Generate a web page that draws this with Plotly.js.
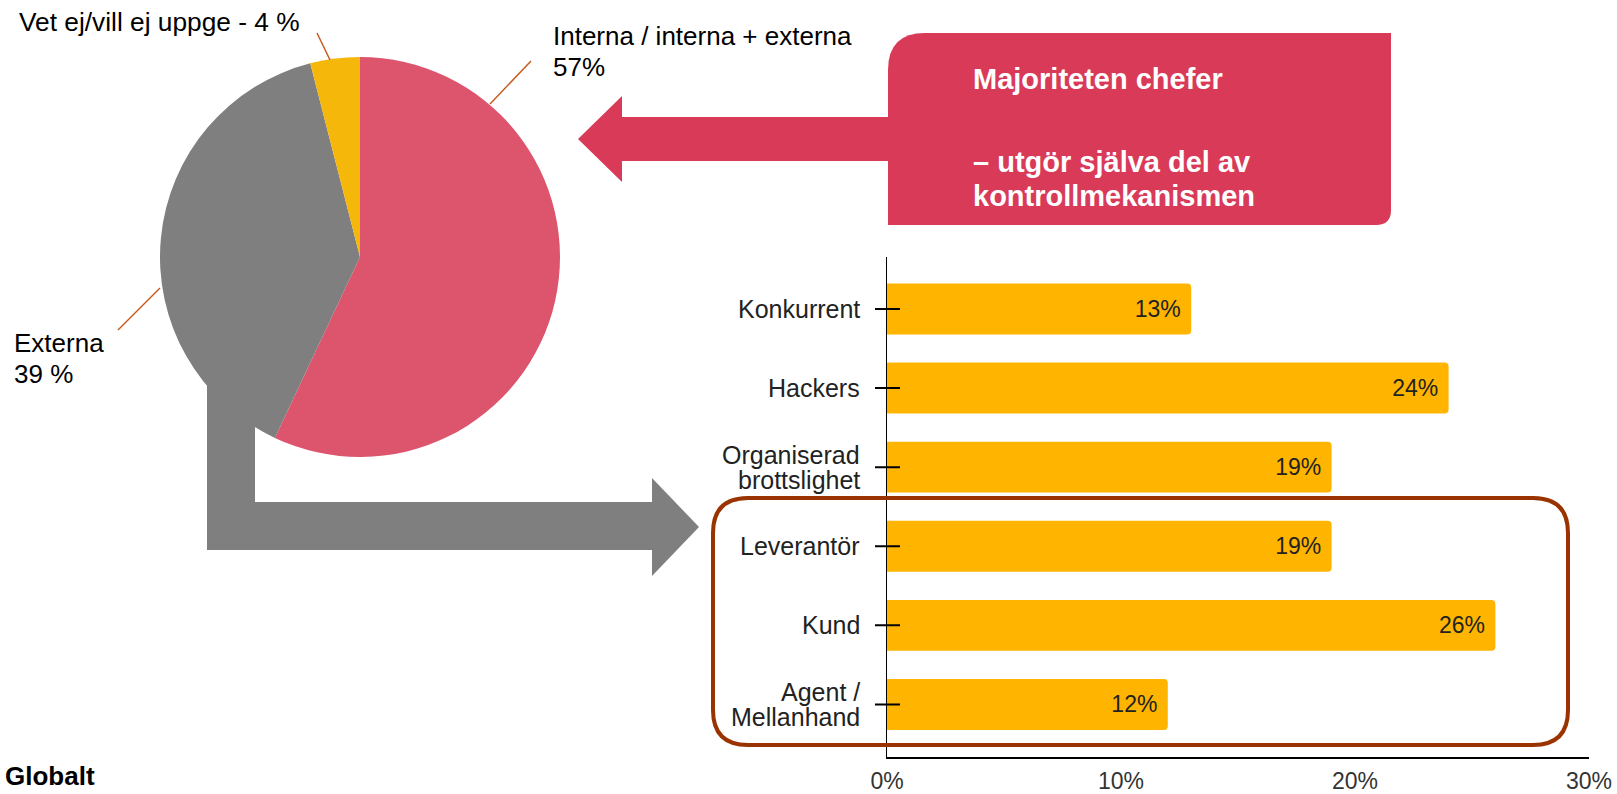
<!DOCTYPE html>
<html>
<head>
<meta charset="utf-8">
<script src="https://cdn.plot.ly/plotly-3.0.1.min.js"></script>
<style>
html,body{margin:0;padding:0;background:#ffffff;}
#chart{width:1617px;height:794px;}
</style>
</head>
<body>
<div id="chart"></div>
<script>
// ---------- data ----------
const pieLabels = ['Interna / interna + externa', 'Externa', 'Vet ej/vill ej uppge'];
const pieValues = [57, 39, 4];
const pieColors = ['#DD546D', '#7F7F7F', '#F5B80A'];

const barCategories = ['Konkurrent', 'Hackers', 'Organiserad<br>brottslighet', 'Leverantör', 'Kund', 'Agent /<br>Mellanhand'];
const barValues = [13, 24, 19, 19, 26, 12];
const xTickVals = [0, 10, 20, 30];

const calloutLines = ['Majoriteten chefer', '– utgör själva del av', 'kontrollmekanismen'];
const footnote = 'Globalt';

// ---------- helpers ----------
const W = 1617, H = 794;
const FONT = '"Liberation Sans", Arial, sans-serif';
const px = x => x / W;
const py = y => 1 - y / H;
function pathOf(cmds) {
  return cmds.map(c => {
    if (c[0] === 'Z') return 'Z';
    if (c[0] === 'Q') return 'Q' + px(c[1]) + ',' + py(c[2]) + ' ' + px(c[3]) + ',' + py(c[4]);
    return c[0] + px(c[1]) + ',' + py(c[2]);
  }).join(' ');
}
function ann(text, x, y, o) {
  o = o || {};
  return {
    text: text, x: px(x), y: py(y), xref: 'paper', yref: 'paper',
    xanchor: o.xanchor || 'left', yanchor: 'middle', showarrow: false,
    font: {family: FONT, size: o.size || 26, color: o.color || '#000000'}
  };
}

// ---------- traces ----------
const pieTrace = {
  type: 'pie',
  values: pieValues,
  labels: pieLabels,
  sort: false,
  direction: 'clockwise',
  rotation: 0,
  marker: {colors: pieColors, line: {width: 0}},
  textinfo: 'none',
  hoverinfo: 'none',
  showlegend: false,
  domain: {x: [px(160), px(560)], y: [py(457), py(57)]}
};

const barTrace = {
  type: 'bar',
  orientation: 'h',
  x: barValues,
  y: barCategories,
  marker: {color: '#FFB500', line: {width: 0}},
  text: barValues.map(v => v + '%\u00a0'),
  textposition: 'inside',
  insidetextanchor: 'end',
  constraintext: 'none',
  textfont: {family: FONT, size: 23, color: '#222222'},
  hoverinfo: 'none',
  showlegend: false
};

// ---------- shapes ----------
const shapes = [];
shapes.push({
  type: 'path', xref: 'paper', yref: 'paper', layer: 'below',
  path: pathOf([['M',207,378],['L',255,378],['L',255,502],['L',652,502],['L',652,478],['L',699,527],['L',652,576],['L',652,550],['L',207,550],['Z']]),
  fillcolor: '#7F7F7F', line: {width: 0}
});
shapes.push({
  type: 'path', xref: 'paper', yref: 'paper', layer: 'above',
  path: pathOf([['M',888,70],['Q',888,33,925,33],['L',1391,33],['L',1391,210],['Q',1391,225,1376,225],['L',888,225],['Z']]),
  fillcolor: '#D93A58', line: {width: 0}
});
shapes.push({
  type: 'path', xref: 'paper', yref: 'paper', layer: 'above',
  path: pathOf([['M',889,117],['L',622,117],['L',622,96],['L',578,139],['L',622,182],['L',622,161],['L',889,161],['Z']]),
  fillcolor: '#D93A58', line: {width: 0}
});
shapes.push({
  type: 'path', xref: 'paper', yref: 'paper', layer: 'above',
  path: pathOf([['M',748,498],['L',1533,498],['Q',1568,498,1568,533],['L',1568,710],['Q',1568,745,1533,745],
                ['L',748,745],['Q',713,745,713,710],['L',713,533],['Q',713,498,748,498],['Z']]),
  fillcolor: 'rgba(0,0,0,0)', line: {color: '#993300', width: 4}
});
const leaderColor = '#C65A1E';
[[490,104,531,61],[317,33,330,60],[118,330,160,288]].forEach(l => {
  shapes.push({type: 'line', xref: 'paper', yref: 'paper', x0: px(l[0]), y0: py(l[1]), x1: px(l[2]), y1: py(l[3]),
               line: {color: leaderColor, width: 1.5}});
});
barCategories.forEach(c => {
  shapes.push({type: 'line', xref: 'paper', yref: 'y', x0: px(875), x1: px(900), y0: c, y1: c,
               line: {color: '#000000', width: 2}});
});

// ---------- annotations ----------
const annotations = [];
annotations.push(ann(pieLabels[0], 551, 36));
annotations.push(ann(pieValues[0] + '%', 551, 67));
annotations.push(ann(pieLabels[1], 12, 343));
annotations.push(ann(pieValues[1] + ' %', 12, 374));
annotations.push(ann(pieLabels[2] + ' - ' + pieValues[2] + ' %', 17, 22, {size: 26.3}));
[[calloutLines[0], 79], [calloutLines[1], 162], [calloutLines[2], 196]].forEach(t => {
  annotations.push(ann('<b>' + t[0] + '</b>', 971, t[1], {size: 29, color: '#FFFFFF'}));
});
barCategories.forEach(c => {
  const lines = c.split('<br>');
  lines.forEach((ln, i) => {
    const shift = lines.length === 1 ? 0 : (i === 0 ? 12.5 : -12.5);
    annotations.push({
      text: ln, xref: 'paper', yref: 'y', x: px(862), y: c, yshift: shift,
      xanchor: 'right', yanchor: 'middle', showarrow: false,
      font: {family: FONT, size: 25, color: '#222222'}
    });
  });
});
annotations.push(ann('<b>' + footnote + '</b>', 3, 776, {size: 26}));

// ---------- layout ----------
const layout = {
  width: W, height: H,
  margin: {l: 0, r: 0, t: 0, b: 0, pad: 0},
  paper_bgcolor: '#FFFFFF', plot_bgcolor: 'rgba(0,0,0,0)',
  showlegend: false,
  font: {family: FONT, color: '#222222'},
  bargap: 0.356,
  barcornerradius: 4,
  xaxis: {
    domain: [px(887), px(1589)],
    range: [0, 30],
    tickvals: xTickVals,
    ticktext: xTickVals.map(v => v + '%'),
    showgrid: false, zeroline: false,
    showline: true, linecolor: '#000000', linewidth: 2,
    ticks: '', tickfont: {family: FONT, size: 23, color: '#333333'},
    ticklabelstandoff: 3,
    fixedrange: true
  },
  yaxis: {
    domain: [py(756.7), py(256.7)],
    type: 'category',
    categoryorder: 'array', categoryarray: barCategories,
    range: [5.66, -0.66],
    showgrid: false, zeroline: false,
    showline: true, linecolor: '#000000', linewidth: 1.5,
    ticks: '', showticklabels: false,
    fixedrange: true
  },
  shapes: shapes,
  annotations: annotations
};

Plotly.newPlot('chart', [pieTrace, barTrace], layout, {displayModeBar: false, staticPlot: true});
</script>
</body>
</html>
